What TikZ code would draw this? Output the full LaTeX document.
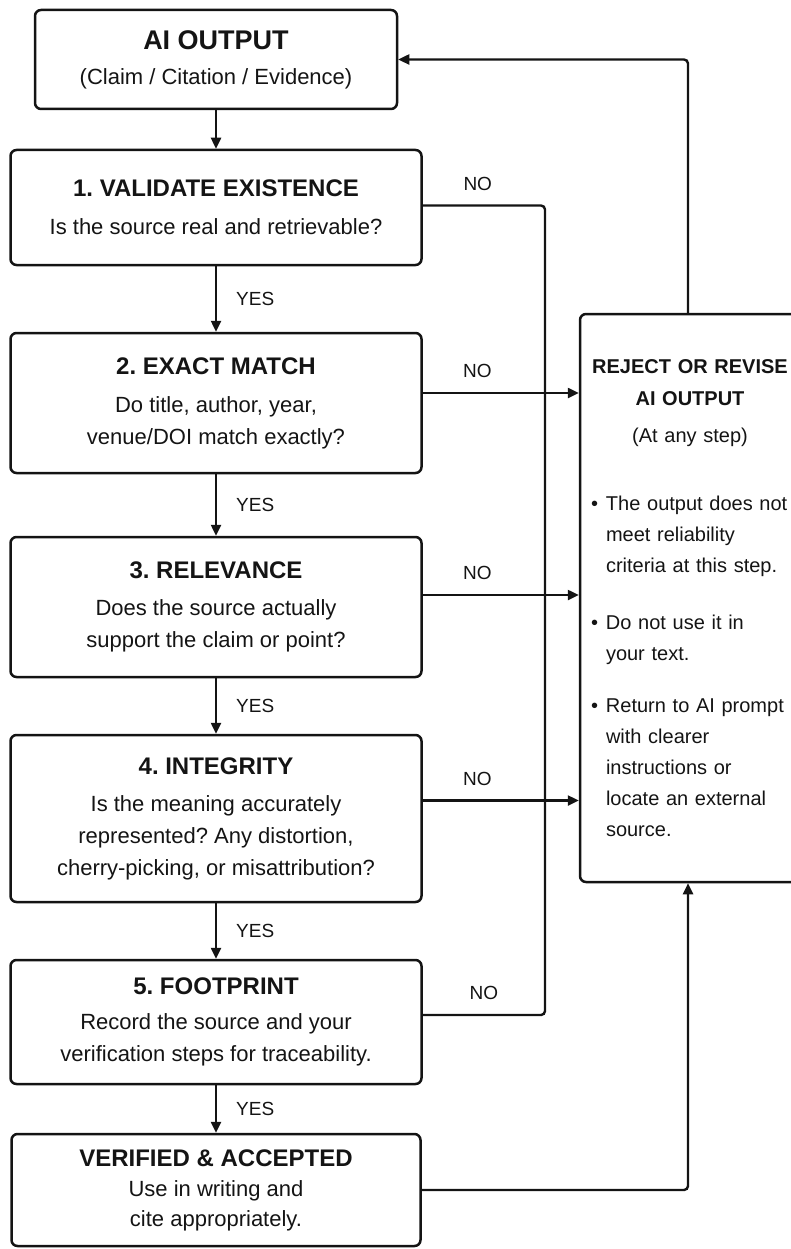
\documentclass[tikz,border=0pt]{standalone}
\usepackage{fontspec}
\setmainfont{Liberation Sans}
\usetikzlibrary{arrows.meta}
\frenchspacing
\definecolor{ink}{RGB}{20,20,20}
\tikzset{
  >={Triangle[length=11pt,width=10pt]},
  stepbox/.style={draw=ink,line width=2.5pt,rounded corners=6pt,minimum width=411pt,
    minimum height=#1,align=center,text=ink,inner sep=0pt,
    font=\fontsize{22}{32}\selectfont},
  stepbox/.default=115pt,
  link/.style={line width=2.4pt,draw=ink,rounded corners=4pt},
  flow/.style={link,->},
  tag/.style={font=\fontsize{19}{22}\selectfont,text=ink,inner sep=2pt},
}
\newcommand\boxhead[1]{{\fontsize{24}{32}\selectfont\bfseries #1}}
\newcommand\rbul{\makebox[15pt][l]{\textbullet}}
\newcommand\rind{\hspace*{15pt}}

\begin{document}
\begin{tikzpicture}[x=1pt,y=-1pt]
    \useasboundingbox (0,0) rectangle (790,1249);
    % main column
    \node[stepbox=99pt,minimum width=362pt] (ai) at (216,59.5)
      {{\fontsize{27}{32}\selectfont\bfseries AI OUTPUT}\\[3pt](Claim / Citation / Evidence)};
    \node[stepbox=115pt] (s1) at (216,207.5)
      {\boxhead{1. VALIDATE EXISTENCE}\\[6pt]Is the source real and retrievable?};
    \node[stepbox=140pt] (s2) at (216,403)
      {\boxhead{2. EXACT MATCH}\\[6pt]Do title, author, year,\\venue/DOI match exactly?};
    \node[stepbox=140pt] (s3) at (216,607)
      {\boxhead{3. RELEVANCE}\\[5pt]Does the source actually\\support the claim or point?};
    \node[stepbox=167pt] (s4) at (216,818.5)
      {\boxhead{4. INTEGRITY}\\[5pt]Is the meaning accurately\\represented? Any distortion,\\cherry-picking, or misattribution?};
    \node[stepbox=124pt] (s5) at (216,1022)
      {\boxhead{5. FOOTPRINT}\\[3pt]Record the source and your\\verification steps for traceability.};
    \node[stepbox=112pt,minimum width=409pt,font=\fontsize{22}{30}\selectfont] (ok) at (216,1190)
      {\boxhead{VERIFIED \& ACCEPTED}\\Use in writing and\\cite appropriately.};
    % reject box
    \node[draw=ink,line width=2.5pt,rounded corners=6pt,minimum width=220pt,minimum height=568pt,
      text width=198pt,align=left,inner sep=0pt,text=ink,font=\fontsize{20}{31}\selectfont] (reject) at (690,598)
      {{\centering\fontsize{20}{32}\selectfont\bfseries REJECT OR REVISE\\AI OUTPUT\\[5pt]\mdseries(At any step)\par}
       \vspace{37pt}
       \rbul The output does not\\\rind meet reliability\\\rind criteria at this step.\\[26pt]
       \rbul Do not use it in\\\rind your text.\\[21pt]
       \rbul Return to AI prompt\\\rind with clearer\\\rind instructions or\\\rind locate an external\\\rind source.\par};
    % yes arrows
    \draw[flow] (ai) -- (s1);
    \draw[flow] (s1) -- node[tag,right=17pt] {YES} (s2);
    \draw[flow] (s2) -- node[tag,right=17pt] {YES} (s3);
    \draw[flow] (s3) -- node[tag,right=17pt] {YES} (s4);
    \draw[flow] (s4) -- node[tag,right=17pt] {YES} (s5);
    \draw[flow] (s5) -- node[tag,right=17pt] {YES} (ok);
    % no branches
    \coordinate (bus) at (545,0);
    \draw[link] ([yshift=2pt]s1.east) -- node[tag,above=12pt,pos=0.45] {NO} ([yshift=2pt]s1.east -| bus)
      |- node[tag,above=12pt,pos=0.75] {NO} ([yshift=7pt]s5.east);
    \draw[flow] ([yshift=10pt]s2.east) -- node[tag,above=12pt,pos=0.35] {NO} ([yshift=10pt]s2.east -| reject.west);
    \draw[flow] ([yshift=12pt]s3.east) -- node[tag,above=12pt,pos=0.35] {NO} ([yshift=12pt]s3.east -| reject.west);
    \draw[flow] ([yshift=18pt]s4.east) -- node[tag,above=12pt,pos=0.35] {NO} ([yshift=18pt]s4.east -| reject.west);
    % loops back
    \draw[flow] ([xshift=-2pt]reject.north) |- (ai.east);
    \draw[flow] (ok.east) -| ([xshift=-2pt]reject.south);
\end{tikzpicture}
\end{document}
